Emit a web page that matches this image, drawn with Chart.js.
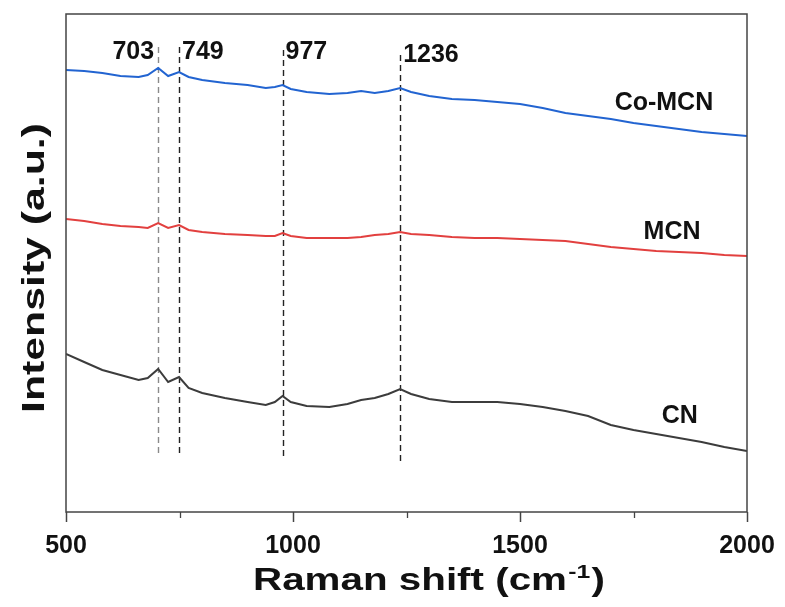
<!DOCTYPE html>
<html>
<head>
<meta charset="utf-8">
<title>Raman spectra</title>
<script src="https://cdn.jsdelivr.net/npm/chart.js@4.4.1/dist/chart.umd.min.js"></script>
<style>
  html, body { margin: 0; padding: 0; background: #fff; }
  canvas { display: block; }
</style>
</head>
<body>
<canvas id="raman" width="785" height="607"></canvas>
<script>
// Raman shift sampling (cm-1)
const ramanShift = [500, 540, 580, 620, 660, 680, 703, 725, 749, 770, 800, 850, 900, 940, 960, 977, 995, 1030, 1080, 1120,
  1150, 1180, 1210, 1236, 1260, 1300, 1350, 1400, 1450, 1500, 1550, 1600, 1650, 1700, 1750, 1800, 1850, 1900, 1950, 2000];

// stacked intensities (a.u., offset per sample)
const coMcn = [442, 441, 439, 436, 435, 437, 444, 436, 440, 435, 432, 429, 427, 424, 425, 427, 423, 420, 418, 419,
  421, 419, 421, 424, 420, 416, 413, 412, 410, 408, 404, 399, 396, 393, 389, 386, 383, 380, 378, 376];
const mcn = [293, 291, 288, 286, 285, 284, 289, 284, 287, 282, 280, 278, 277, 276, 276, 279, 276, 274, 274, 274,
  275, 277, 278, 280, 278, 277, 275, 274, 274, 273, 272, 271, 268, 265, 263, 261, 260, 259, 257, 256];
const cn = [158, 150, 142, 137, 132, 134, 143, 130, 135, 124, 119, 114, 110, 107, 110, 116, 110, 106, 105, 108,
  112, 114, 118, 123, 118, 113, 110, 110, 110, 108, 105, 101, 96, 87, 82, 78, 74, 70, 65, 61];

const sampleNames = ['Co-MCN', 'MCN', 'CN'];
const peakPositions = [703, 749, 977, 1236];
const peakLabels = ['703', '749', '977', '1236'];
const xTicks = [500, 1000, 1500, 2000];
const xMinorTicks = [750, 1250, 1750];

const FONT = '"Liberation Sans", Arial, sans-serif';
const INK = '#111';

// where the sample names and peak marks sit (data units)
const nameSpots = [
  { x: 1817, y: 409 },
  { x: 1835, y: 280 },
  { x: 1852, y: 96 }
];
const peakGuides = [
  { top: 465, bottom: 57, color: '#8a8a8a', labelY: 460, align: 'right' },
  { top: 465, bottom: 57, color: '#222', labelY: 460, align: 'left' },
  { top: 462, bottom: 53, color: '#222', labelY: 460, align: 'left' },
  { top: 457, bottom: 47, color: '#222', labelY: 457, align: 'left' }
];

function toPoints(ys) {
  return ramanShift.map((x, i) => ({ x, y: ys[i] }));
}

// draws text squeezed/stretched to a given length
function fitText(ctx, text, x, y, length) {
  const w = ctx.measureText(text).width;
  ctx.save();
  ctx.translate(x, y);
  ctx.scale(length / w, 1);
  ctx.fillText(text, 0, 0);
  ctx.restore();
}

const decorations = {
  id: 'decorations',
  beforeDatasetsDraw(chart) {
    const { ctx, scales: { x, y } } = chart;
    ctx.save();
    ctx.lineWidth = 1.4;
    ctx.setLineDash([6, 4]);
    peakPositions.forEach((p, i) => {
      const g = peakGuides[i];
      const px = Math.round(x.getPixelForValue(p)) + 0.5;
      ctx.strokeStyle = g.color;
      ctx.beginPath();
      ctx.moveTo(px, y.getPixelForValue(g.top));
      ctx.lineTo(px, y.getPixelForValue(g.bottom));
      ctx.stroke();
    });
    ctx.restore();
  },
  afterDraw(chart) {
    const { ctx, chartArea: a, scales: { x, y } } = chart;
    ctx.save();

    // frame
    ctx.strokeStyle = '#444';
    ctx.lineWidth = 1.5;
    ctx.strokeRect(a.left, a.top, a.right - a.left, a.bottom - a.top);

    // minor ticks
    ctx.lineWidth = 1.3;
    xMinorTicks.forEach(v => {
      const px = Math.round(x.getPixelForValue(v)) + 0.5;
      ctx.beginPath();
      ctx.moveTo(px, a.bottom);
      ctx.lineTo(px, a.bottom + 6);
      ctx.stroke();
    });

    ctx.fillStyle = INK;
    ctx.textBaseline = 'middle';

    // peak labels
    ctx.font = 'bold 25px ' + FONT;
    peakLabels.forEach((t, i) => {
      const g = peakGuides[i];
      const px = x.getPixelForValue(peakPositions[i]);
      ctx.textAlign = g.align;
      ctx.fillText(t, g.align === 'right' ? px - 4 : px + 3, y.getPixelForValue(g.labelY));
    });

    // sample names
    ctx.textAlign = 'center';
    sampleNames.forEach((t, i) => {
      ctx.fillText(t, x.getPixelForValue(nameSpots[i].x), y.getPixelForValue(nameSpots[i].y));
    });

    // axis titles
    ctx.textBaseline = 'alphabetic';
    ctx.textAlign = 'left';
    ctx.font = 'bold 31px ' + FONT;
    const main = 'Raman shift (cm';
    const mainW = ctx.measureText(main).width;
    ctx.font = 'bold 19px ' + FONT;
    const supW = ctx.measureText('-1').width;
    ctx.font = 'bold 31px ' + FONT;
    const closeW = ctx.measureText(')').width;
    const natural = mainW + supW + closeW + 2;
    const sx = 352 / natural;
    const left = 253, base = 590;
    ctx.save();
    ctx.translate(left, base);
    ctx.scale(sx, 1);
    ctx.fillText(main, 0, 0);
    ctx.font = 'bold 19px ' + FONT;
    ctx.fillText('-1', mainW + 1, -12);
    ctx.font = 'bold 31px ' + FONT;
    ctx.fillText(')', mainW + supW + 2, 0);
    ctx.restore();

    ctx.save();
    ctx.translate(44, 268);
    ctx.rotate(-Math.PI / 2);
    ctx.textAlign = 'center';
    ctx.font = 'bold 31px ' + FONT;
    fitText(ctx, 'Intensity (a.u.)', 0, 0, 290);
    ctx.restore();

    ctx.restore();
  }
};

new Chart(document.getElementById('raman'), {
  type: 'line',
  data: {
    datasets: [
      { label: sampleNames[0], data: toPoints(coMcn), borderColor: '#2264d1' },
      { label: sampleNames[1], data: toPoints(mcn), borderColor: '#e2403f' },
      { label: sampleNames[2], data: toPoints(cn), borderColor: '#3c3c3c' }
    ]
  },
  options: {
    responsive: false,
    animation: false,
    layout: { padding: { left: 0, right: 38, top: 14, bottom: 0 } },
    elements: {
      point: { radius: 0 },
      line: { borderWidth: 2, tension: 0 }
    },
    plugins: {
      legend: { display: false },
      tooltip: { enabled: false }
    },
    scales: {
      x: {
        type: 'linear',
        min: 500,
        max: 2000,
        afterBuildTicks: scale => { scale.ticks = xTicks.map(value => ({ value })); },
        afterFit: scale => {
          scale.height = 95;
          scale.paddingLeft = 0;
          scale.paddingRight = 0;
        },
        border: { display: false },
        grid: {
          drawOnChartArea: false,
          drawTicks: true,
          tickLength: 10,
          tickWidth: 1.5,
          tickColor: '#444'
        },
        ticks: {
          maxRotation: 0,
          padding: 9,
          color: INK,
          font: { family: FONT, size: 25, weight: 'bold' },
          callback: v => String(v)
        }
      },
      y: {
        min: 0,
        max: 498,
        afterFit: scale => {
          scale.width = 66;
          scale.paddingTop = 0;
          scale.paddingBottom = 0;
        },
        border: { display: false },
        grid: { display: false },
        ticks: { display: false }
      }
    }
  },
  plugins: [decorations]
});
</script>
</body>
</html>
